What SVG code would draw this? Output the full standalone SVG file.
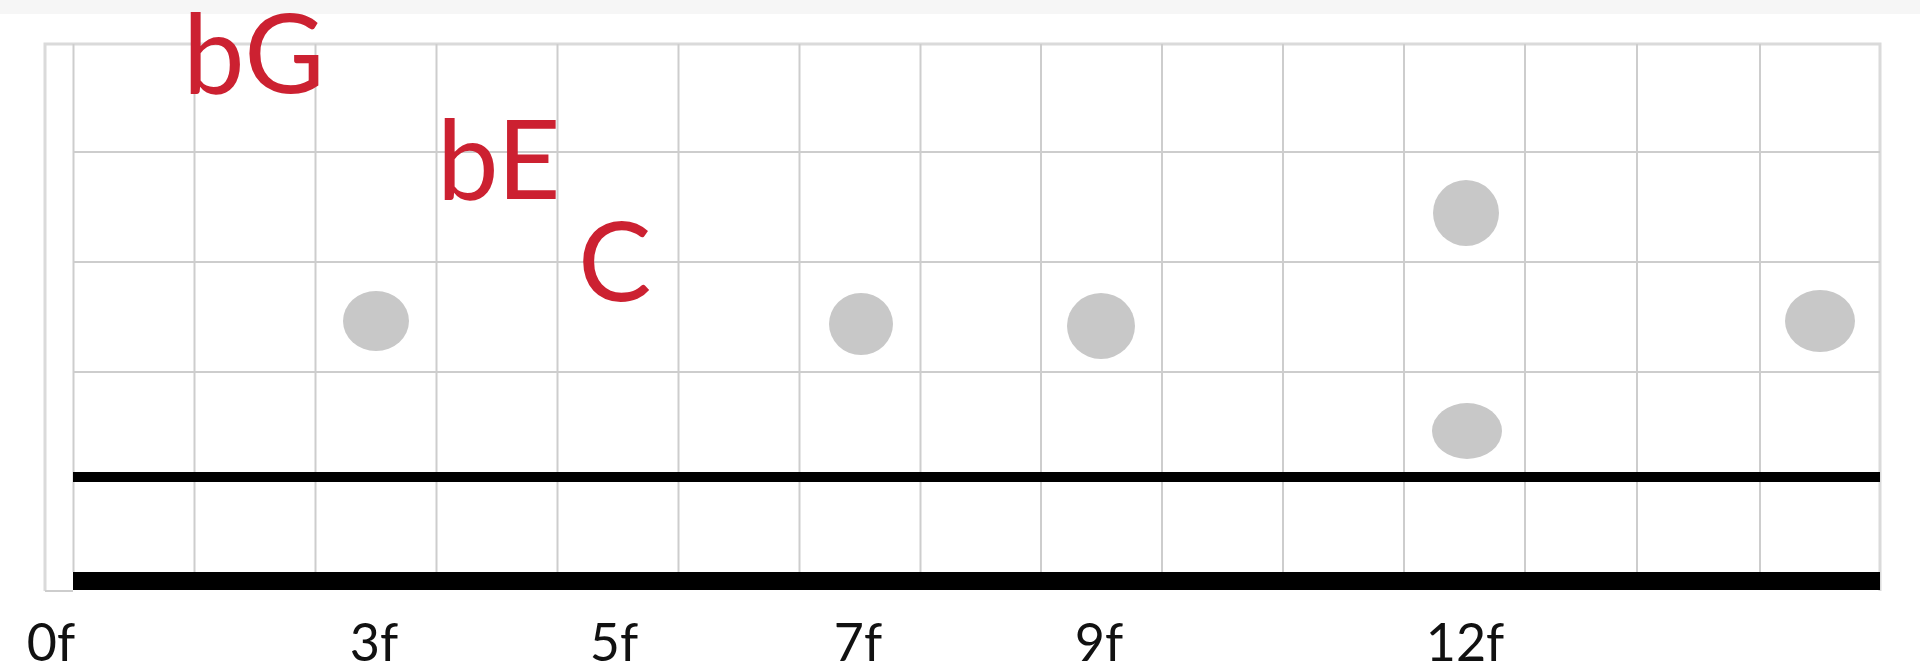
<svg xmlns="http://www.w3.org/2000/svg" width="1920" height="672" viewBox="0 0 1920 672">
<style>
.grid{stroke:#cdcdcd;stroke-width:2;fill:none}
.frame{stroke:#dadada;stroke-width:3;fill:none}
.dot{fill:#c8c8c8}
.note{font-family:Lato,"Open Sans",sans-serif;font-size:110px;fill:#cc2131}
.fret{font-family:Lato,"Open Sans",sans-serif;font-size:52px;fill:#111;text-anchor:middle}
</style>
<rect x="0" y="0" width="1920" height="672" fill="#ffffff"/>
<rect id="topband" x="0" y="0" width="1920" height="14" fill="#f6f6f6"/>
<g id="fretboard">
<path class="frame" d="M45,591 V44 H1880 V591"/>
<path class="grid" d="M45,591 H73"/>
<path class="grid" d="M73.5,44V572 M194.5,44V572 M315.5,44V572 M436.5,44V572 M557.5,44V572 M678.5,44V572 M799.5,44V572 M920.5,44V572 M1041,44V572 M1162,44V572 M1283,44V572 M1404,44V572 M1525,44V572 M1637,44V572 M1760,44V572"/>
<path class="grid" d="M73,152H1880 M73,262H1880 M73,372H1880"/>
<rect x="73" y="472" width="1807" height="10" fill="#000"/>
<rect x="73" y="572" width="1807" height="18" fill="#000"/>
</g>
<g id="notes">
<text class="note" x="183" y="93">bG</text>
<text class="note" x="437" y="199">bE</text>
<text class="note" x="578" y="301">C</text>
</g>
<g id="dots">
<ellipse class="dot" cx="376" cy="321" rx="33" ry="30"/>
<ellipse class="dot" cx="861" cy="324" rx="32" ry="31"/>
<ellipse class="dot" cx="1101" cy="326" rx="34" ry="33"/>
<ellipse class="dot" cx="1466" cy="213" rx="33" ry="33"/>
<ellipse class="dot" cx="1820" cy="321" rx="35" ry="31"/>
<ellipse class="dot" cx="1467" cy="431" rx="35" ry="28"/>
</g>
<g id="labels">
<text class="fret" x="51" y="661">0f</text>
<text class="fret" x="374" y="661">3f</text>
<text class="fret" x="614" y="661">5f</text>
<text class="fret" x="858" y="661">7f</text>
<text class="fret" x="1099" y="661">9f</text>
<text class="fret" x="1465" y="661">12f</text>
</g>
</svg>
